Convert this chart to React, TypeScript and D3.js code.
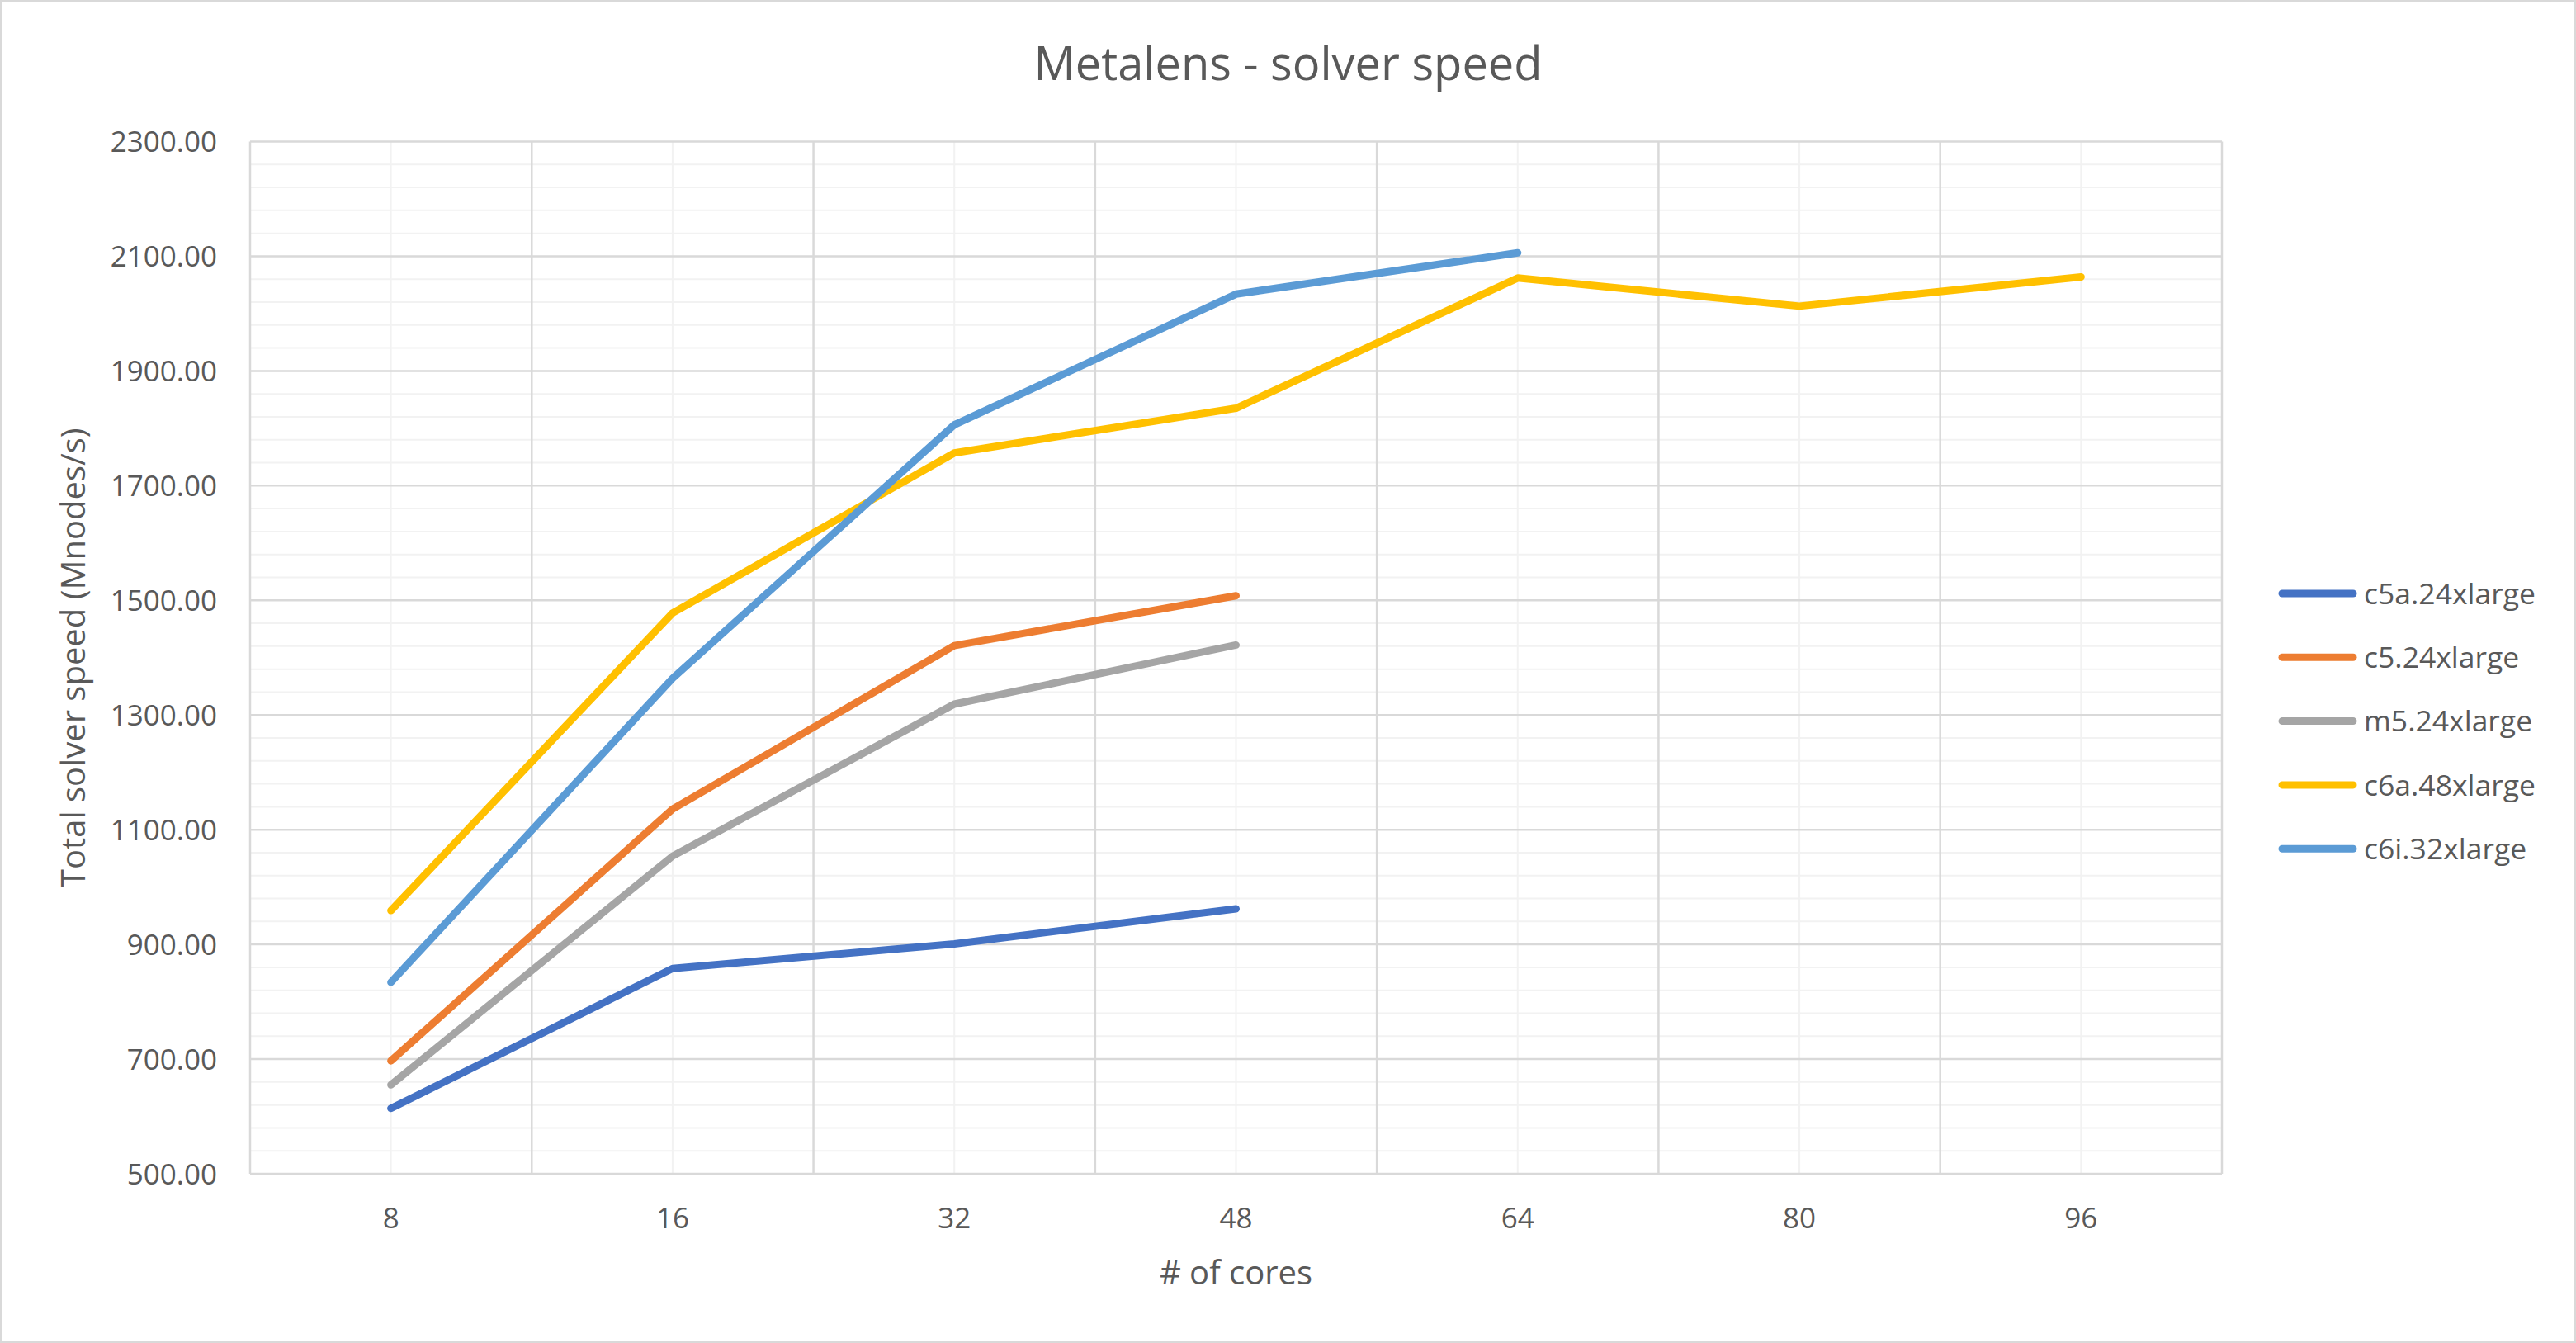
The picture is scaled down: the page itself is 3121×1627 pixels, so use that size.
import * as d3 from "d3";

// x categories (# of cores)
const CORES = ["8", "16", "32", "48", "64", "80", "96"];

// series values (Mnodes/s)
const C5A_24XL = [614, 858, 901, 962];
const C5_24XL = [697, 1136, 1421, 1508];
const M5_24XL = [655, 1054, 1319, 1422];
const C6A_48XL = [959, 1478, 1757, 1835, 2062, 2013, 2064];
const C6I_32XL = [834, 1364, 1806, 2034, 2106];

const SERIES_NAMES = ["c5a.24xlarge", "c5.24xlarge", "m5.24xlarge", "c6a.48xlarge", "c6i.32xlarge"];
const SERIES_VALUES = [C5A_24XL, C5_24XL, M5_24XL, C6A_48XL, C6I_32XL];
const SERIES_COLORS = ["#4472C4", "#ED7D31", "#A5A5A5", "#FFC000", "#5B9BD5"];

const Y_MIN = 500;
const Y_MAX = 2300;
const Y_MAJOR = 200;
const Y_MINOR = 40;

const W = 3121;
const H = 1627;
const PLOT = { left: 303, right: 2692, top: 171.5, bottom: 1422 };

const TEXT = "#595959";
const FONT = "'Open Sans', 'Noto Sans', sans-serif";
const MAJOR_GRID = "#d9d9d9";
const MINOR_GRID = "#f2f2f2";

export default function App() {
  const x = d3
    .scaleBand<string>()
    .domain(CORES)
    .range([PLOT.left, PLOT.right])
    .paddingInner(0)
    .paddingOuter(0);
  const cx = (c: string) => (x(c) ?? 0) + x.bandwidth() / 2;

  const y = d3.scaleLinear().domain([Y_MIN, Y_MAX]).range([PLOT.bottom, PLOT.top]);

  const majorTicks = d3.range(Y_MIN, Y_MAX + 1, Y_MAJOR);
  const minorTicks = d3
    .range(Y_MIN, Y_MAX + 1, Y_MINOR)
    .filter((v) => (v - Y_MIN) % Y_MAJOR !== 0);

  // band boundaries = major vertical gridlines
  const boundaries = [...CORES.map((c) => x(c) ?? 0), PLOT.right];

  const line = d3
    .line<number>()
    .x((_d, i) => cx(CORES[i]))
    .y((d) => y(d));

  // legend sits right of the plot, swatches with round caps
  const legendX = 2765;
  const legendY0 = 719;
  const legendStep = 77.3;

  return (
    <svg
      width={W}
      height={H}
      viewBox={`0 0 ${W} ${H}`}
      style={{ position: "absolute", left: 0, top: 0, background: "#fff" }}
      fontFamily={FONT}
    >
      <rect x={1.5} y={1.5} width={W - 3} height={H - 3} fill="#fff" stroke={MAJOR_GRID} strokeWidth={3} />

      {/* title */}
      <text x={W / 2} y={97} textAnchor="middle" fontSize={56} fill={TEXT}>
        Metalens - solver speed
      </text>

      {/* minor gridlines */}
      <g stroke={MINOR_GRID} strokeWidth={2}>
        {minorTicks.map((v) => (
          <line key={`hy${v}`} x1={PLOT.left} x2={PLOT.right} y1={y(v)} y2={y(v)} />
        ))}
        {CORES.map((c) => (
          <line key={`vx${c}`} x1={cx(c)} x2={cx(c)} y1={PLOT.top} y2={PLOT.bottom} />
        ))}
      </g>

      {/* major gridlines */}
      <g stroke={MAJOR_GRID} strokeWidth={2.5}>
        {majorTicks.map((v) => (
          <line key={`HY${v}`} x1={PLOT.left} x2={PLOT.right} y1={y(v)} y2={y(v)} />
        ))}
        {boundaries.map((b, i) => (
          <line key={`VX${i}`} x1={b} x2={b} y1={PLOT.top} y2={PLOT.bottom} />
        ))}
      </g>

      {/* y tick labels */}
      <g fontSize={35} fill={TEXT} textAnchor="end">
        {majorTicks.map((v) => (
          <text key={v} x={263} y={y(v)} dy="0.36em">
            {v.toFixed(2)}
          </text>
        ))}
      </g>

      {/* x tick labels */}
      <g fontSize={35} fill={TEXT} textAnchor="middle">
        {CORES.map((c) => (
          <text key={c} x={cx(c)} y={1488}>
            {c}
          </text>
        ))}
      </g>

      {/* axis titles */}
      <text x={(PLOT.left + PLOT.right) / 2} y={1556} textAnchor="middle" fontSize={40} fill={TEXT}>
        # of cores
      </text>
      <text
        transform={`translate(103, ${(PLOT.top + PLOT.bottom) / 2}) rotate(-90)`}
        textAnchor="middle"
        fontSize={40}
        fill={TEXT}
      >
        Total solver speed (Mnodes/s)
      </text>

      {/* series */}
      {SERIES_VALUES.map((vals, i) => (
        <path
          key={SERIES_NAMES[i]}
          d={line(vals) ?? ""}
          fill="none"
          stroke={SERIES_COLORS[i]}
          strokeWidth={9}
          strokeLinejoin="round"
          strokeLinecap="round"
        />
      ))}

      {/* legend */}
      <g>
        {SERIES_NAMES.map((name, i) => {
          const ly = legendY0 + i * legendStep;
          return (
            <g key={name}>
              <line
                x1={legendX}
                x2={legendX + 86}
                y1={ly}
                y2={ly}
                stroke={SERIES_COLORS[i]}
                strokeWidth={9}
                strokeLinecap="round"
              />
              <text x={2864} y={ly} dy="0.36em" fontSize={35.5} fill={TEXT}>
                {name}
              </text>
            </g>
          );
        })}
      </g>
    </svg>
  );
}
